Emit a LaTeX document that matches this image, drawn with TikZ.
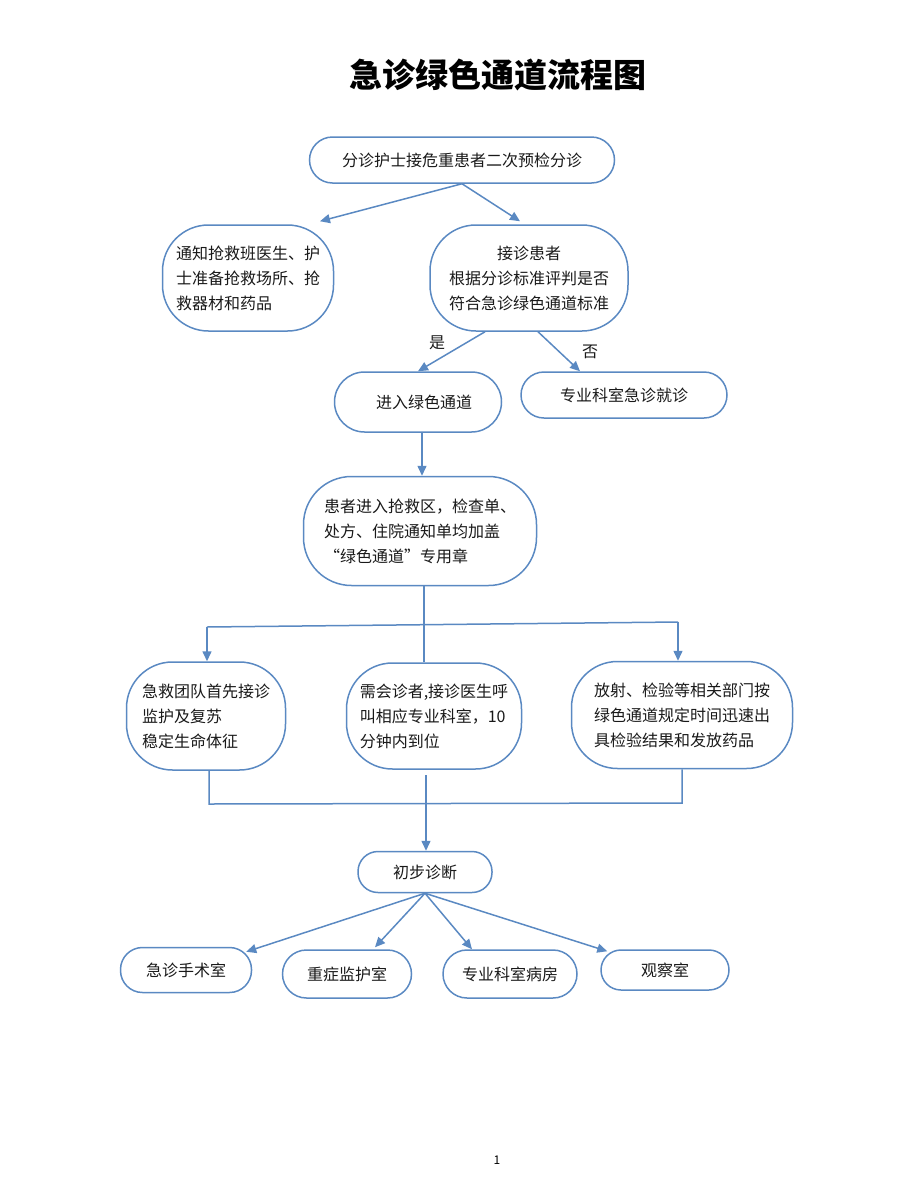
\documentclass[tikz,border=0pt]{standalone}
\usepackage{fontspec}
\setmainfont{Noto Sans CJK SC}
\usetikzlibrary{arrows.meta}
\definecolor{lnc}{HTML}{5A89C2}
\begin{document}
\begin{tikzpicture}[x=1pt,y=-1pt,
  box/.style={draw=lnc, line width=1.5pt, rounded corners=#1, inner sep=0pt, align=center,
    font=\fontsize{16}{25}\selectfont, text=black!90},
  box/.default=36,
  arr/.style={draw=lnc, line width=1.5pt, -{Triangle[length=10pt,width=9pt]}},
  lnk/.style={draw=lnc, line width=1.5pt},
  lbl/.style={font=\fontsize{16}{20}\selectfont, text=black!90, inner sep=0pt}]
\useasboundingbox (0,0) rectangle (900,1200);

\node[font=\fontsize{33}{36}\selectfont\bfseries, inner sep=0pt] (title) at (498,75) {急诊绿色通道流程图};

\node[box=23, minimum width=305pt, minimum height=46pt] (top) at (462,160) {分诊护士接危重患者二次预检分诊};
\node[box=46, minimum width=171pt, minimum height=106pt, align=left] (L1) at (248,278) {通知抢救班医生、护\\士准备抢救场所、抢\\救器材和药品};
\node[box=46, minimum width=198pt, minimum height=106pt] (R1) at (529,278) {接诊患者\\根据分诊标准评判是否\\符合急诊绿色通道标准};
\node[box=30, minimum width=167pt, minimum height=60pt] (G) at (418,402) {\hspace*{12pt}进入绿色通道};
\node[box=23, minimum width=206pt, minimum height=46pt] (S) at (624,395) {专业科室急诊就诊};
\node[box=48, minimum width=233pt, minimum height=109pt, align=left] (P) at (420,531) {患者进入抢救区，检查单、\\处方、住院通知单均加盖\\“绿色通道”专用章};
\node[box=46, minimum width=159pt, minimum height=108pt, align=left] (A) at (206,716) {急救团队首先接诊\\监护及复苏\\稳定生命体征};
\node[box=46, minimum width=175pt, minimum height=106pt, align=left] (B) at (434,716) {需会诊者,接诊医生呼\\叫相应专业科室，10\\分钟内到位};
\node[box=46, minimum width=221pt, minimum height=107pt, align=left] (C) at (682,715) {放射、检验等相关部门按\\绿色通道规定时间迅速出\\具检验结果和发放药品};
\node[box=20, minimum width=134pt, minimum height=41pt] (D) at (425,872) {初步诊断};
\node[box=22, minimum width=131pt, minimum height=45pt] (E1) at (186,970) {急诊手术室};
\node[box=24, minimum width=129pt, minimum height=48pt] (E2) at (347,974) {重症监护室};
\node[box=24, minimum width=134pt, minimum height=48pt] (E3) at (510,974) {专业科室病房};
\node[box=20, minimum width=128pt, minimum height=40pt] (E4) at (665,970) {观察室};

\node[lbl] (yes) at (437,343) {是};
\node[lbl] (no) at (590,352) {否};
\node[font=\fontsize{12}{14}\selectfont, inner sep=0pt] (pg) at (497,1160) {1};

\draw[arr] (top.south) -- ([xshift=72pt,yshift=3pt]L1.north);
\draw[arr] (top.south) -- ([xshift=-9pt,yshift=3pt]R1.north);
\draw[arr] ([xshift=-44pt]R1.south) -- (G.north);
\draw[arr] ([xshift=9pt]R1.south) -- ([xshift=-44pt]S.north);
\draw[arr] ([xshift=4pt]G.south) -- ([xshift=2pt]P.north);

\draw[lnk] ([xshift=4pt]P.south) -- ([xshift=-10pt]B.north);
\coordinate (sL) at (207,627);
\coordinate (sR) at (678,622);
\draw[lnk] (sL) -- (sR);
\draw[arr] (sL) -- (sL |- A.north);
\draw[arr] (sR) -- (sR |- C.north);

\coordinate (mL) at (209,804);
\coordinate (mR) at (682,803);
\draw[lnk] ([xshift=3pt]A.south) -- (mL) -- (mR) -- (C.south);
\coordinate (mB) at (426,775);
\draw[arr] (mB) -- (mB |- D.north);

\draw[arr] (D.south) -- ([xshift=-6pt,yshift=-5pt]E1.north east);
\draw[arr] (D.south) -- ([xshift=28pt,yshift=2pt]E2.north);
\draw[arr] (D.south) -- ([xshift=-38pt]E3.north);
\draw[arr] (D.south) -- ([xshift=7pt,yshift=-2pt]E4.north west);
\end{tikzpicture}
\end{document}
